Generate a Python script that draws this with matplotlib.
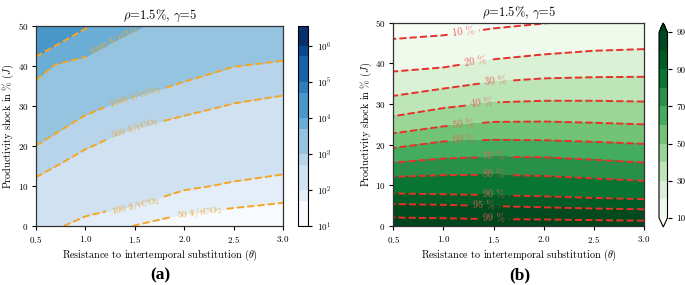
import numpy as np
import matplotlib
matplotlib.use('Agg')
import matplotlib.pyplot as plt

plt.rcParams['font.family'] = ['cmr10', 'DejaVu Serif']
plt.rcParams['mathtext.fontset'] = 'cm'
plt.rcParams['axes.formatter.use_mathtext'] = True
plt.rcParams['axes.unicode_minus'] = False

# ---------------- Panel (a): carbon price ($/tCO2), log10 values on grid ----------------
theta_a = [0.5, 0.7, 1.0, 1.25, 1.5, 2.0, 2.5, 3.0]
shock_a = [0, 5, 10, 15, 20, 25, 30, 35, 40, 45, 50]
log10_cost_a = [
    [2.234, 2.044, 1.883, 1.790, 1.690, 1.538, 1.487, 1.442],
    [2.425, 2.264, 2.127, 2.058, 1.998, 1.807, 1.723, 1.664],
    [2.615, 2.484, 2.331, 2.247, 2.179, 2.052, 1.958, 1.885],
    [2.806, 2.703, 2.536, 2.435, 2.358, 2.237, 2.146, 2.084],
    [2.996, 2.882, 2.732, 2.624, 2.537, 2.422, 2.323, 2.259],
    [3.206, 3.069, 2.895, 2.808, 2.718, 2.607, 2.501, 2.434],
    [3.416, 3.271, 3.091, 2.989, 2.906, 2.787, 2.678, 2.609],
    [3.626, 3.473, 3.345, 3.216, 3.109, 2.962, 2.843, 2.782],
    [3.875, 3.675, 3.598, 3.446, 3.328, 3.144, 3.007, 2.955],
    [4.146, 3.993, 3.823, 3.676, 3.546, 3.329, 3.180, 3.126],
    [4.417, 4.328, 4.029, 3.842, 3.747, 3.514, 3.353, 3.296],
]
fill_levels_a = [10, 50, 100, 500, 1000, 5000, 1e4, 5e4, 1e5, 5e5, 1e6, 3.5e6]
line_levels_a = [50, 100, 500, 1000, 5000, 10000]
line_labels_a = ['50 \\$/tCO$_2$', '100 \\$/tCO$_2$', '500 \\$/tCO$_2$',
                 '1000 \\$/tCO$_2$', '5000 \\$/tCO$_2$', '10000 \\$/tCO$_2$']
label_pos_a = [(2.15, 4.0), (1.5, 5.5), (1.5, 24.5), (1.5, 32.4), (1.3, 46.0)]

# ---------------- Panel (b): share (%), J position of each share level ----------------
theta_b = [0.5, 1.0, 1.5, 2.0, 2.5, 3.0]
share_levels = [10, 20, 30, 40, 50, 60, 70, 80, 90, 95, 99]
share_rows = [100, 99, 95, 90, 80, 70, 60, 50, 40, 30, 20, 10, 0]
shock_rows_b = [
    [0.0, 0.0, 0.0, 0.0, 0.0, 0.0],
    [2.1, 1.9, 1.7, 1.6, 1.45, 1.3],
    [5.4, 5.2, 4.9, 4.6, 4.3, 4.1],
    [8.0, 7.8, 7.6, 7.3, 6.9, 6.6],
    [12.1, 12.5, 12.6, 12.3, 11.7, 11.1],
    [15.6, 16.6, 17.0, 16.9, 16.3, 15.6],
    [19.2, 20.8, 21.2, 21.1, 20.7, 20.2],
    [22.8, 24.5, 25.6, 25.7, 25.4, 25.0],
    [27.0, 29.0, 30.4, 30.8, 30.8, 30.6],
    [32.0, 33.8, 35.5, 36.3, 36.6, 36.7],
    [38.0, 39.0, 41.0, 42.2, 43.1, 43.5],
    [46.0, 46.9, 48.6, 49.8, 51.0, 52.0],
    [60.0, 60.0, 60.0, 60.0, 60.0, 60.0],
]
share_tick_b = [10, 30, 50, 70, 90, 99]
label_pos_b = [(1.2, 47.6), (1.32, 40.3), (1.52, 35.6), (1.38, 30.2), (1.2, 25.2),
               (1.2, 21.0), (1.5, 17.0), (1.5, 12.6), (1.5, 7.8), (1.4, 5.0), (1.5, 1.8)]

title = r'$\rho$=1.5%, $\gamma$=5'
xlabel = r'Resistance to intertemporal substitution ($\theta$)'
ylabel = r'Productivity shock in % ($J$)'

W, H = 685, 285
fig = plt.figure(figsize=(W / 100, H / 100), dpi=100)
ax_a = fig.add_axes([36 / W, 1 - 226 / H, 247 / W, 200 / H])
cax_a = fig.add_axes([298 / W, 1 - 226 / H, 9.5 / W, 200 / H])
ax_b = fig.add_axes([393.3 / W, 1 - 226 / H, 250.7 / W, 203.3 / H])
cax_b = fig.add_axes([659 / W, 1 - 227 / H, 8.5 / W, 204 / H])

# ---- Panel (a)
Xa, Ya = np.meshgrid(theta_a, shock_a)
Za = np.array(log10_cost_a)
fill_log = np.log10(fill_levels_a)
blues = plt.get_cmap('Blues')
cols_a = [blues(i / 10) for i in range(len(fill_levels_a) - 1)]
cf_a = ax_a.contourf(Xa, Ya, Za, levels=fill_log, colors=cols_a)
cs_a = ax_a.contour(Xa, Ya, Za, levels=np.log10(line_levels_a), colors='#f5a623',
                    linestyles='--', linewidths=1.4)
fmt_a = {lev: lab for lev, lab in zip(cs_a.levels, line_labels_a)}
ax_a.clabel(cs_a, levels=cs_a.levels[:5], fmt=fmt_a, manual=label_pos_a, inline=True,
            fontsize=6.8, colors='#eeaa30')
ax_a.set_xlim(0.5, 3.0)
ax_a.set_ylim(0, 50)
ax_a.set_xticks([0.5, 1.0, 1.5, 2.0, 2.5, 3.0])
ax_a.set_yticks([0, 10, 20, 30, 40, 50])
ax_a.set_title(title, fontsize=9, pad=5)
ax_a.set_xlabel(xlabel, fontsize=7.3, labelpad=2)
ax_a.set_ylabel(ylabel, fontsize=7.3, labelpad=1)

cb_a = fig.colorbar(cf_a, cax=cax_a, spacing='proportional', ticks=[1, 2, 3, 4, 5, 6])
cb_a.set_ticklabels([r'$10^{%d}$' % k for k in range(1, 7)])
cb_a.ax.tick_params(labelsize=6.5, length=3, width=0.8)
cb_a.outline.set_linewidth(0.8)

# ---- Panel (b)
Xb = np.tile(theta_b, (len(share_rows), 1))
Yb = np.array(shock_rows_b)
Zb = np.tile(np.array(share_rows, dtype=float)[:, None], (1, len(theta_b)))
cf_b = ax_b.contourf(Xb, Yb, Zb, levels=share_levels, cmap='Greens', extend='both')
cs_b = ax_b.contour(Xb, Yb, Zb, levels=share_levels, colors='#e8302a',
                    linestyles='--', linewidths=1.4)
fmt_b = {lev: '%d %%' % lev for lev in cs_b.levels}
ax_b.clabel(cs_b, fmt=fmt_b, manual=label_pos_b, inline=True, fontsize=7.3, colors='#e6605a')
ax_b.set_xlim(0.5, 3.0)
ax_b.set_ylim(0, 50)
ax_b.set_xticks([0.5, 1.0, 1.5, 2.0, 2.5, 3.0])
ax_b.set_yticks([0, 10, 20, 30, 40, 50])
ax_b.set_title(title, fontsize=9, pad=5)
ax_b.set_xlabel(xlabel, fontsize=7.3, labelpad=2)
ax_b.set_ylabel(ylabel, fontsize=7.3, labelpad=1)

cb_b = fig.colorbar(cf_b, cax=cax_b, ticks=share_tick_b)
cb_b.set_ticklabels([str(t) for t in share_tick_b])
cb_b.ax.tick_params(labelsize=6.5, length=3, width=0.8)
cb_b.outline.set_linewidth(0.8)

for ax in (ax_a, ax_b):
    ax.tick_params(labelsize=6.5, length=3, width=0.8, pad=2.5)
    for s in ax.spines.values():
        s.set_linewidth(0.9)
        s.set_color('#333333')

fig.text(160 / W, 1 - 275 / H, '(a)', ha='center', va='center', fontsize=12.5,
         fontweight='bold', family='Liberation Serif')
fig.text(520 / W, 1 - 275 / H, '(b)', ha='center', va='center', fontsize=12.5,
         fontweight='bold', family='Liberation Serif')

fig.savefig('out.png', dpi=100)
